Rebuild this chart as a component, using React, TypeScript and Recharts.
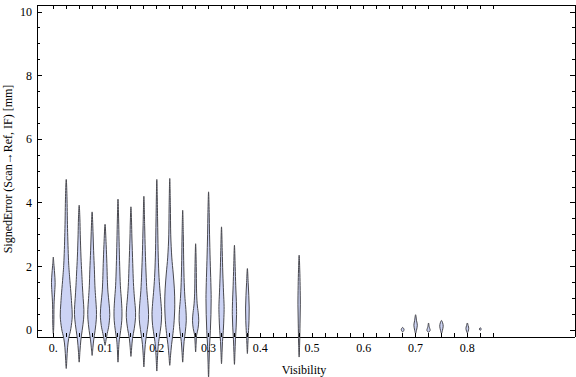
import React from 'react';
import { ComposedChart, Scatter, XAxis, YAxis } from 'recharts';

// Violin centres (Visibility) and their density profiles: [signed error (mm), half width (thousandths of visibility)]
const violinCenters = [0, 0.025, 0.05, 0.075, 0.1, 0.125, 0.15, 0.175, 0.2, 0.225, 0.25, 0.275, 0.3, 0.325, 0.35, 0.375, 0.475, 0.675, 0.7, 0.725, 0.75, 0.8, 0.825];

const violinProfiles: number[][][] = [
  [[-0.1, 0], [0.2, 1.0], [0.8, 1.4], [1.2, 2.7], [1.5, 3.5], [1.8, 2.5], [2.1, 1.0], [2.3, 0]],
  [[-1.2, 0], [-0.9, 1.2], [-0.55, 2.5], [-0.25, 4.8], [0.05, 8.9], [0.45, 11.6], [0.85, 10.4], [1.2, 8.9], [1.7, 6.4], [2.2, 4.4], [3.2, 2.5], [4.2, 1.4], [4.74, 0]],
  [[-1.0, 0], [-0.65, 1.5], [-0.3, 3.3], [0.0, 5.8], [0.35, 8.5], [0.65, 9.1], [1.0, 7.7], [1.4, 6.2], [1.8, 5.0], [2.3, 3.5], [3.0, 2.1], [3.5, 1.4], [3.93, 0]],
  [[-0.79, 0], [-0.55, 1.5], [-0.3, 3.1], [0.0, 5.8], [0.35, 8.1], [0.65, 8.3], [1.0, 6.9], [1.4, 5.4], [1.9, 4.4], [2.5, 2.9], [3.1, 1.7], [3.72, 0]],
  [[-0.47, 0], [-0.3, 1.9], [-0.1, 4.2], [0.15, 7.3], [0.5, 9.1], [0.85, 7.7], [1.2, 5.6], [1.6, 4.4], [2.1, 3.5], [2.7, 2.1], [3.33, 0]],
  [[-1.0, 0], [-0.6, 1.2], [-0.3, 2.5], [0.0, 5.2], [0.3, 7.3], [0.6, 7.7], [0.95, 6.6], [1.4, 4.6], [2.0, 3.3], [2.8, 2.1], [3.5, 1.2], [4.12, 0]],
  [[-0.82, 0], [-0.55, 1.4], [-0.25, 3.1], [0.05, 6.4], [0.4, 8.9], [0.7, 8.5], [1.05, 6.6], [1.5, 4.8], [2.1, 3.5], [2.9, 1.9], [3.4, 1.2], [3.88, 0]],
  [[-1.15, 0], [-0.8, 1.2], [-0.45, 2.7], [-0.15, 5.0], [0.2, 8.1], [0.5, 9.1], [0.85, 7.9], [1.25, 5.8], [1.8, 4.2], [2.5, 2.7], [3.3, 1.5], [4.21, 0]],
  [[-1.28, 0], [-0.9, 1.2], [-0.5, 2.7], [-0.2, 5.0], [0.15, 8.1], [0.5, 9.3], [0.85, 8.1], [1.3, 5.8], [1.8, 3.9], [2.5, 2.5], [3.5, 1.5], [4.74, 0]],
  [[-1.1, 0], [-0.8, 1.5], [-0.45, 3.5], [-0.1, 6.2], [0.3, 8.5], [0.8, 9.7], [1.3, 8.9], [1.8, 6.6], [2.3, 3.9], [3.0, 1.9], [3.9, 1.2], [4.77, 0]],
  [[-1.0, 0], [-0.7, 1.2], [-0.35, 2.7], [-0.05, 5.0], [0.3, 6.9], [0.65, 6.2], [1.0, 4.4], [1.5, 2.9], [2.2, 1.9], [3.0, 1.2], [3.77, 0]],
  [[-0.68, 0], [-0.4, 1.0], [-0.15, 1.9], [0.05, 4.6], [0.3, 6.0], [0.55, 5.0], [0.85, 2.9], [1.3, 1.7], [2.0, 1.2], [2.72, 0]],
  [[-1.5, 0], [-1.0, 1.0], [-0.5, 1.9], [0.0, 3.5], [0.5, 4.6], [1.0, 5.0], [1.5, 4.4], [2.2, 3.1], [3.0, 1.9], [3.7, 1.2], [4.35, 0]],
  [[-1.05, 0], [-0.7, 1.0], [-0.35, 1.9], [0.0, 3.5], [0.4, 4.6], [0.75, 5.0], [1.2, 3.9], [1.8, 2.5], [2.5, 1.4], [3.25, 0]],
  [[-1.07, 0], [-0.7, 1.0], [-0.3, 1.9], [0.1, 3.3], [0.5, 4.1], [0.9, 3.7], [1.4, 2.5], [2.0, 1.4], [2.67, 0]],
  [[-0.73, 0], [-0.4, 1.0], [-0.1, 1.9], [0.3, 3.1], [0.7, 3.5], [1.1, 2.7], [1.5, 1.5], [1.94, 0]],
  [[-0.84, 0], [-0.4, 1.0], [0.2, 1.7], [0.8, 2.3], [1.4, 1.9], [1.9, 1.2], [2.36, 0]],
  [[-0.05, 0], [0.02, 2.7], [0.09, 0]],
  [[-0.1, 0], [0.0, 1.7], [0.16, 3.3], [0.3, 1.9], [0.49, 0]],
  [[-0.06, 0], [0.0, 3.1], [0.06, 2.3], [0.12, 1.2], [0.23, 0]],
  [[-0.1, 0], [0.0, 1.9], [0.13, 3.3], [0.23, 2.3], [0.31, 0]],
  [[-0.08, 0], [0.05, 2.7], [0.15, 1.5], [0.23, 0]],
  [[0.0, 0], [0.04, 1.9], [0.08, 0]],
];

const xTicks = [0, 0.025, 0.05, 0.075, 0.1, 0.125, 0.15, 0.175, 0.2, 0.225, 0.25, 0.275, 0.3, 0.325, 0.35, 0.375, 0.4, 0.425, 0.45, 0.475, 0.5, 0.525, 0.55, 0.575, 0.6, 0.625, 0.65, 0.675, 0.7, 0.725, 0.75, 0.775, 0.8, 0.825, 0.85];
const xMajorTicks = [0, 0.1, 0.2, 0.3, 0.4, 0.5, 0.6, 0.7, 0.8];
const xTickLabels = ['0.', '0.1', '0.2', '0.3', '0.4', '0.5', '0.6', '0.7', '0.8'];
const yTicks = [0, 0.5, 1, 1.5, 2, 2.5, 3, 3.5, 4, 4.5, 5, 5.5, 6, 6.5, 7, 7.5, 8, 8.5, 9, 9.5, 10];
const yMajorTicks = [0, 2, 4, 6, 8, 10];
const yTickLabels = ['0', '2', '4', '6', '8', '10'];
const frameAnchor = [{ x: 0, y: 0 }];

const X_DOMAIN: [number, number] = [-0.0315, 1.008];
const Y_DOMAIN: [number, number] = [-0.21, 10.22];
const WIDTH_UNIT = 0.001;

const FONT = "'Liberation Serif', 'Times New Roman', serif";
const VIOLIN_FILL = '#ccd3f4';
const VIOLIN_STROKE = '#48484e';
const textStyle: React.CSSProperties = { fontFamily: FONT, fontSize: 12, fill: '#000' };
const frameLine = { stroke: '#000', strokeWidth: 1, shapeRendering: 'crispEdges' } as any;

const violinData = violinCenters.map((c, i) => {
  const prof = violinProfiles[i];
  const right = prof.map(([v, w]) => ({ x: c + w * WIDTH_UNIT, y: v }));
  const left = prof
    .slice(1, -1)
    .reverse()
    .map(([v, w]) => ({ x: c - w * WIDTH_UNIT, y: v }));
  return [...right, ...left];
});

type Pt = { x: number; y: number };

function smoothClosedPath(pts: Pt[]): string {
  const n = pts.length;
  let d = `M${pts[0].x},${pts[0].y}`;
  for (let i = 0; i < n; i++) {
    const p0 = pts[(i - 1 + n) % n];
    const p1 = pts[i];
    const p2 = pts[(i + 1) % n];
    const p3 = pts[(i + 2) % n];
    const c1x = p1.x + (p2.x - p0.x) / 6;
    const c1y = p1.y + (p2.y - p0.y) / 6;
    const c2x = p2.x - (p3.x - p1.x) / 6;
    const c2y = p2.y - (p3.y - p1.y) / 6;
    d += `C${c1x},${c1y},${c2x},${c2y},${p2.x},${p2.y}`;
  }
  return d + 'Z';
}

const renderViolin = (props: any) => {
  const pts: Pt[] = (props.points || []).filter((p: any) => p && p.x != null && p.y != null);
  if (pts.length < 3) return <g />;
  return (
    <path
      d={smoothClosedPath(pts)}
      fill={VIOLIN_FILL}
      stroke={VIOLIN_STROKE}
      strokeWidth={1}
      strokeLinejoin="round"
    />
  );
};

const noShape = () => <g />;

const near = (a: number, b: number) => Math.abs(a - b) < 1e-9;

const BottomTick = (props: any) => {
  const { x, y, payload } = props;
  const idx = xMajorTicks.findIndex((m) => near(m, payload.value));
  return (
    <g>
      <line x1={x} y1={y} x2={x} y2={y - 4} stroke="#000" strokeWidth={1} shapeRendering="crispEdges" />
      {idx >= 0 && (
        <text x={x} y={y + 15} textAnchor="middle" style={textStyle}>
          {xTickLabels[idx]}
        </text>
      )}
    </g>
  );
};

const TopTick = (props: any) => {
  const { x, y } = props;
  return <line x1={x} y1={y} x2={x} y2={y + 4} stroke="#000" strokeWidth={1} shapeRendering="crispEdges" />;
};

const LeftTick = (props: any) => {
  const { x, y, payload } = props;
  const idx = yMajorTicks.findIndex((m) => near(m, payload.value));
  const len = idx >= 0 ? 5 : 3;
  return (
    <g>
      <line x1={x} y1={y} x2={x + len} y2={y} stroke="#000" strokeWidth={1} shapeRendering="crispEdges" />
      {idx >= 0 && (
        <text x={x - 5} y={y + 4} textAnchor="end" style={textStyle}>
          {yTickLabels[idx]}
        </text>
      )}
    </g>
  );
};

const RightTick = (props: any) => {
  const { x, y, payload } = props;
  const idx = yMajorTicks.findIndex((m) => near(m, payload.value));
  const len = idx >= 0 ? 5 : 3;
  return <line x1={x} y1={y} x2={x - len} y2={y} stroke="#000" strokeWidth={1} shapeRendering="crispEdges" />;
};

const renderXLabel = (props: any) => {
  const vb = props.viewBox || {};
  return (
    <text x={vb.x + vb.width / 2 - 2} y={vb.y + 36.5} textAnchor="middle" style={textStyle}>
      Visibility
    </text>
  );
};

const renderYLabel = (props: any) => {
  const vb = props.viewBox || {};
  const cx = vb.x + 8;
  const cy = vb.y + vb.height / 2 - 2;
  return (
    <text
      x={cx}
      y={cy}
      transform={`rotate(-90, ${cx}, ${cy})`}
      textAnchor="middle"
      dominantBaseline="central"
      style={textStyle}
    >
      SignedError (Scan→Ref, IF) [mm]
    </text>
  );
};

export default function App() {
  return (
    <div style={{ width: 576, height: 377, background: '#fff' }}>
      <style>{'body{margin:0;} .recharts-wrapper g, .recharts-wrapper .recharts-scatter { clip-path: none !important; }'}</style>
      <ComposedChart width={576} height={377} margin={{ top: 4, right: 0, bottom: 0, left: 0 }}>
        <XAxis
          xAxisId={0}
          type="number"
          dataKey="x"
          domain={X_DOMAIN}
          allowDataOverflow
          ticks={xTicks}
          interval={0}
          tickSize={0}
          tickMargin={0}
          tickLine={false}
          tick={<BottomTick />}
          height={40}
          axisLine={frameLine}
          label={{ content: renderXLabel }}
        />
        <XAxis
          xAxisId="top"
          orientation="top"
          type="number"
          dataKey="x"
          domain={X_DOMAIN}
          allowDataOverflow
          ticks={xTicks}
          interval={0}
          tickSize={0}
          tickMargin={0}
          tickLine={false}
          tick={<TopTick />}
          height={1}
          axisLine={frameLine}
        />
        <YAxis
          yAxisId={0}
          type="number"
          dataKey="y"
          domain={Y_DOMAIN}
          allowDataOverflow
          ticks={yTicks}
          interval={0}
          tickSize={0}
          tickMargin={0}
          tickLine={false}
          tick={<LeftTick />}
          width={37}
          axisLine={frameLine}
          label={{ content: renderYLabel }}
        />
        <YAxis
          yAxisId="right"
          orientation="right"
          type="number"
          dataKey="y"
          domain={Y_DOMAIN}
          allowDataOverflow
          ticks={yTicks}
          interval={0}
          tickSize={0}
          tickMargin={0}
          tickLine={false}
          tick={<RightTick />}
          width={1}
          axisLine={frameLine}
        />
        <Scatter
          xAxisId="top"
          yAxisId="right"
          data={frameAnchor}
          dataKey="y"
          shape={noShape}
          isAnimationActive={false}
          legendType="none"
        />
        {violinData.map((pts, i) => (
          <Scatter
            key={i}
            xAxisId={0}
            yAxisId={0}
            data={pts}
            dataKey="y"
            line={renderViolin}
            lineType="joint"
            shape={noShape}
            isAnimationActive={false}
            legendType="none"
          />
        ))}
      </ComposedChart>
    </div>
  );
}
